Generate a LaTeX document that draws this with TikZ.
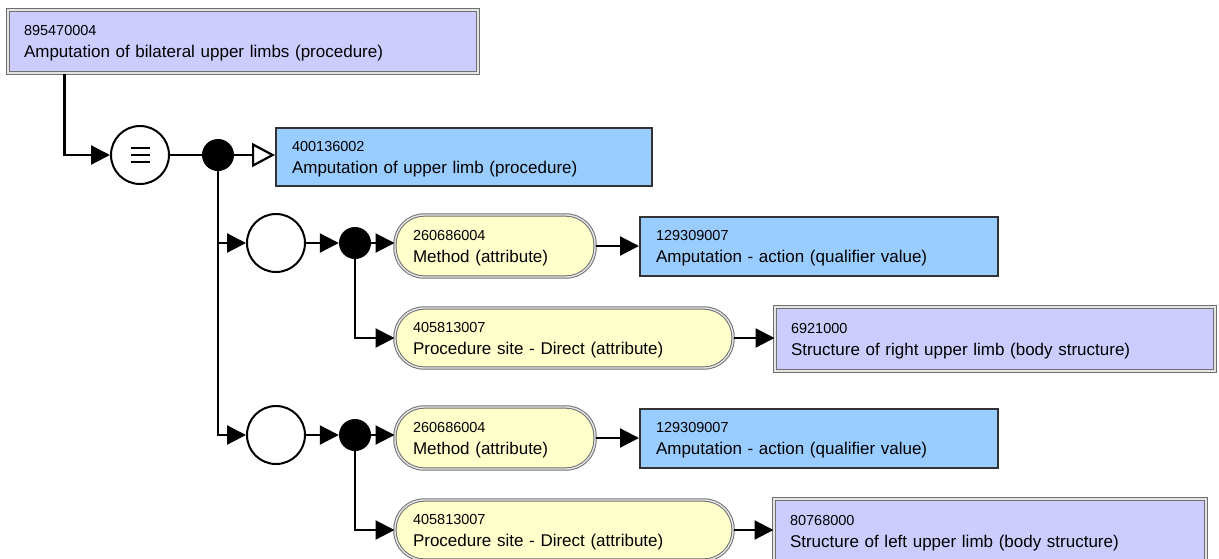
\documentclass[tikz,border=0pt]{standalone}
\usepackage{fontspec}
\setmainfont{Liberation Sans}
\usetikzlibrary{arrows.meta}
\definecolor{defpurple}{HTML}{CCCCFF}
\definecolor{primblue}{HTML}{99CCFF}
\definecolor{attryellow}{HTML}{FFFFCC}
\definecolor{dblgray}{HTML}{707070}
\definecolor{gapgray}{HTML}{E4E4E4}
\definecolor{edgedark}{HTML}{333333}
\newcommand{\sctid}[1]{{\fontsize{14.5}{22}\selectfont\rule{0pt}{14.5pt}#1}}
\begin{document}
\begin{tikzpicture}[x=1pt,y=-1pt,
  every node/.style={font=\fontsize{17}{22}\selectfont},
  conceptbase/.style={rectangle, inner xsep=16pt, inner ysep=0pt, align=left, anchor=center},
  defbox/.style={conceptbase, fill=defpurple, draw=dblgray, line width=1pt, double=gapgray, double distance=1.4pt},
  primbox/.style={conceptbase, fill=primblue, draw=edgedark, line width=2pt},
  attrbox/.style={rectangle, rounded corners=29pt, inner xsep=18pt, inner ysep=0pt, align=left, anchor=center, fill=attryellow, draw=dblgray, line width=1pt, double=gapgray, double distance=1.4pt},
  ring/.style={circle, draw=black, line width=2pt, fill=white, minimum size=58pt, inner sep=0pt},
  junction/.style={circle, fill=black, minimum size=32pt, inner sep=0pt},
  link/.style={line width=2.2pt, -{Triangle[length=19pt,width=19pt]}},
  isa/.style={line width=2.2pt, -{Triangle[open,length=23pt,width=24pt,fill=white]}},
]
\useasboundingbox (0,0) rectangle (1219,558);
\clip (0,0) rectangle (1219,558);

% concepts
\node[defbox, text width=438pt, minimum height=63pt] (top) at (243,41.5) {\sctid{895470004}\\Amputation of bilateral upper limbs (procedure)};
\node[primbox, text width=344pt, minimum height=58pt] (b400) at (464,157) {\sctid{400136002}\\Amputation of upper limb (procedure)};

% operators
\node[ring] (eq) at (140,155) {};
\foreach \dy in {-7,0,7}
  \draw[line width=2.4pt] ([xshift=-9.5pt,yshift=\dy pt]eq.center) -- ++(19,0);
\node[junction] (dot1) at (218,155) {};

% group 1
\node[ring] (c1) at (276,243) {};
\node[junction] (d1) at (355,243) {};
\node[attrbox, text width=164pt, minimum height=62pt] (m1) at (495,246) {\sctid{260686004}\\Method (attribute)};
\node[primbox, text width=326pt, minimum height=59pt] (v1) at (819,246.5) {\sctid{129309007}\\Amputation - action (qualifier value)};
\node[attrbox, text width=302pt, minimum height=60pt] (p1) at (564,338) {\sctid{405813007}\\Procedure site - Direct (attribute)};
\node[defbox, text width=408pt, minimum height=64pt] (s1) at (995,339) {\sctid{6921000}\\Structure of right upper limb (body structure)};

% group 2
\node[ring] (c2) at (276,435) {};
\node[junction] (d2) at (355,435) {};
\node[attrbox, text width=164pt, minimum height=62pt] (m2) at (495,438) {\sctid{260686004}\\Method (attribute)};
\node[primbox, text width=326pt, minimum height=59pt] (v2) at (819,438.5) {\sctid{129309007}\\Amputation - action (qualifier value)};
\node[attrbox, text width=302pt, minimum height=60pt] (p2) at (564,530) {\sctid{405813007}\\Procedure site - Direct (attribute)};
\node[defbox, text width=400pt, minimum height=64pt] (s2) at (990,531) {\sctid{80768000}\\Structure of left upper limb (body structure)};

% connectors
\draw[link] ([xshift=57pt]top.south west) |- (eq.west);
\draw[line width=1.5pt] (eq.east) -- (dot1.west);
\draw[isa] (dot1.east) -- (dot1 -| b400.west);
\draw[link] (dot1.south) |- (c1.west);
\draw[link] (dot1.south) |- (c2.west);

\draw[link] (c1.east) -- (d1.west);
\draw[link] (d1.east) -- (d1 -| m1.west);
\draw[link] (d1.south) |- (p1.west);
\draw[link] (m1.east) -- (m1.east -| v1.west);
\draw[link] (p1.east) -- (p1.east -| s1.west);

\draw[link] (c2.east) -- (d2.west);
\draw[link] (d2.east) -- (d2 -| m2.west);
\draw[link] (d2.south) |- (p2.west);
\draw[link] (m2.east) -- (m2.east -| v2.west);
\draw[link] (p2.east) -- (p2.east -| s2.west);
\end{tikzpicture}
\end{document}
